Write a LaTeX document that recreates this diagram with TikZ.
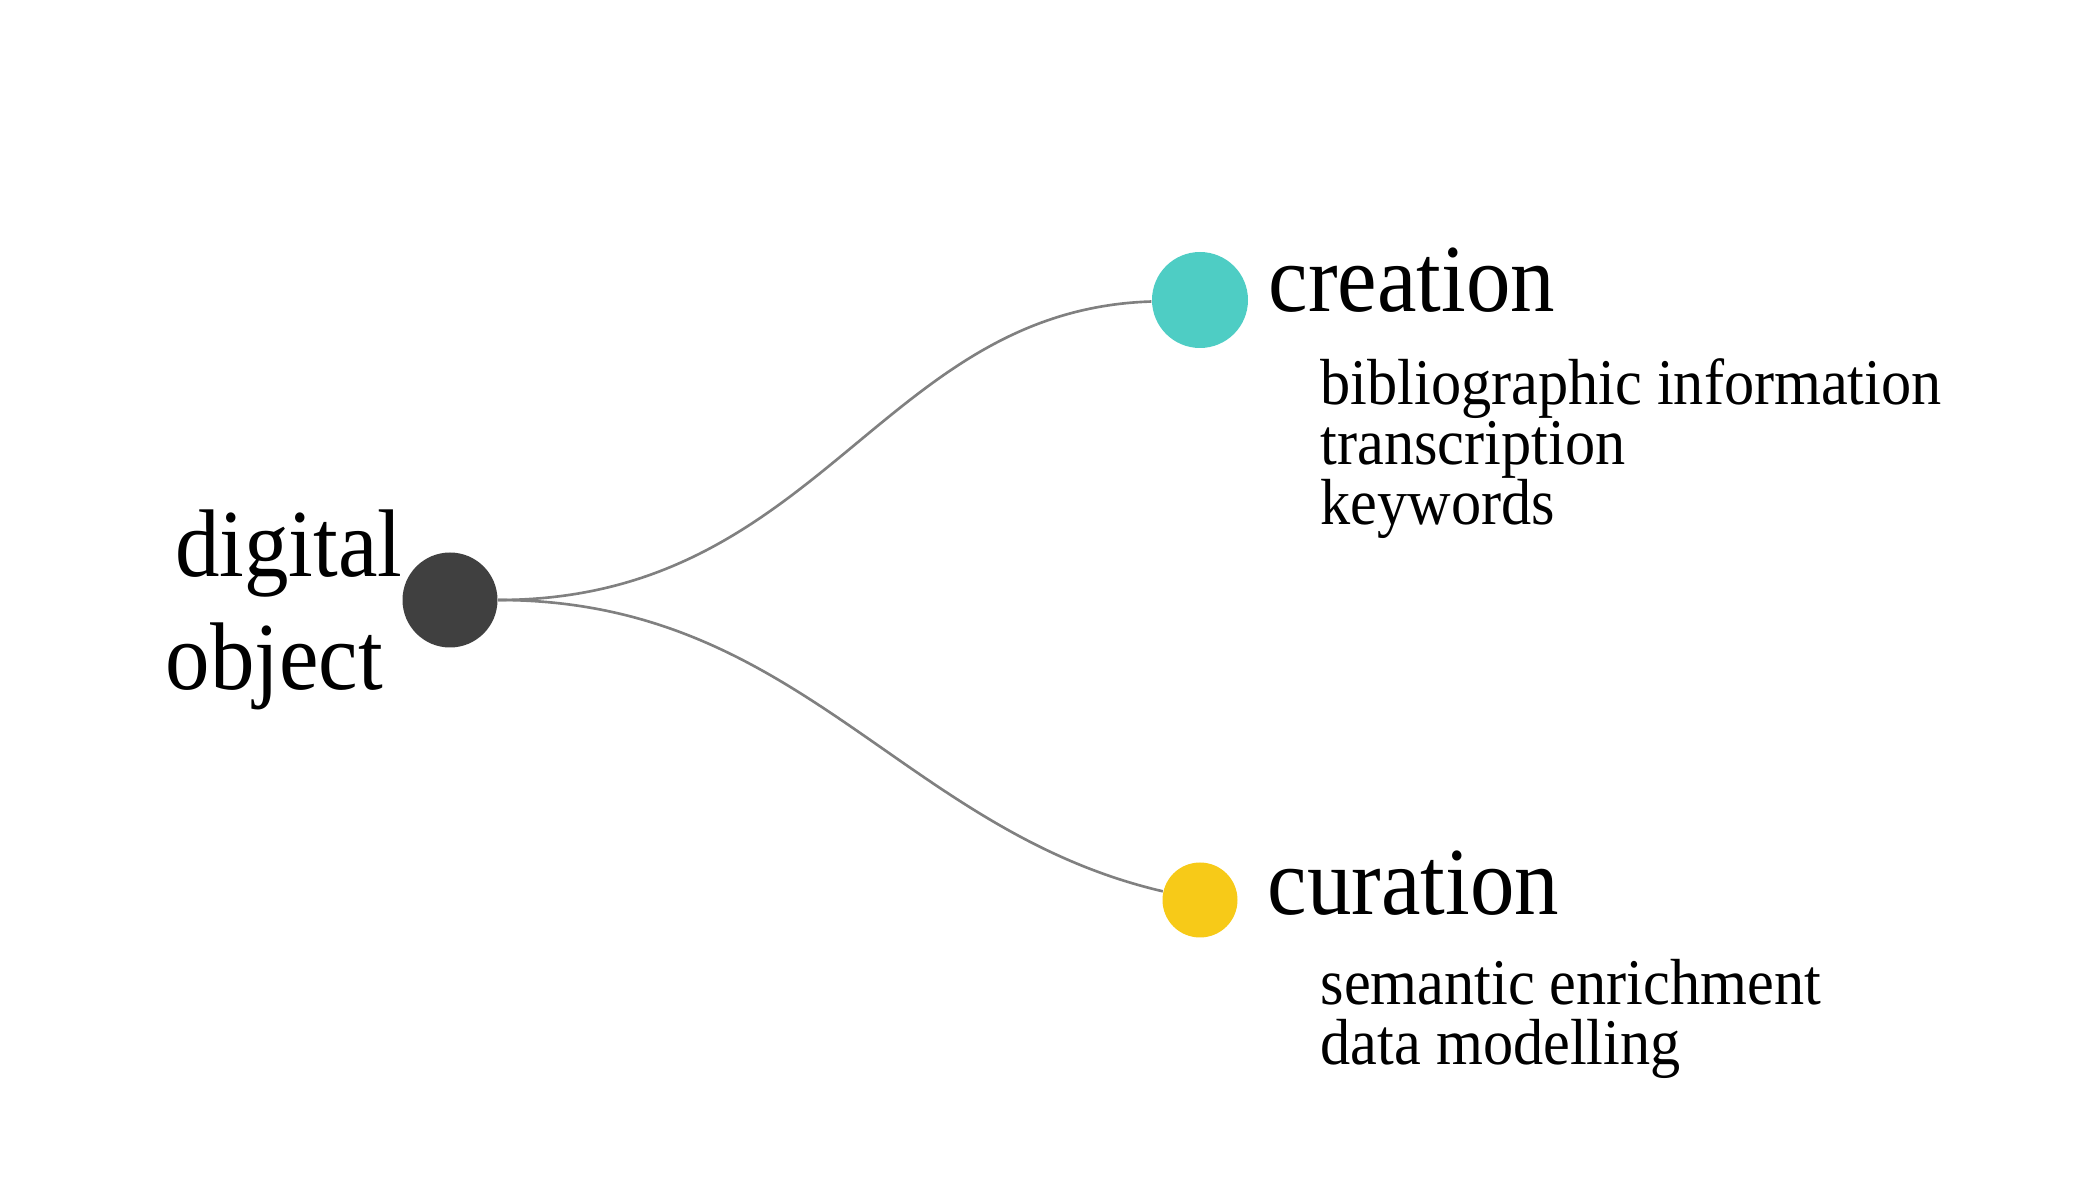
\documentclass[tikz,border=0pt]{standalone}
\usepackage{fontspec}
\setmainfont[FakeStretch=0.925]{Liberation Serif}
\definecolor{objgray}{HTML}{404040}
\definecolor{teal}{HTML}{4ECDC4}
\definecolor{gold}{HTML}{F7CA18}
\definecolor{linkgray}{HTML}{808080}
\begin{document}
\begin{tikzpicture}[dot/.style={circle, inner sep=0pt}, big/.style={inner sep=0pt, font=\fontsize{27.35}{27.35}\selectfont}, item/.style={inner sep=0pt, anchor=base west, font=\fontsize{18.54}{18.54}\selectfont}, link/.style={linkgray, line width=0.75pt}]
        \useasboundingbox (0,0) rectangle (21,12);
        \node[dot, fill=objgray, minimum size=0.95cm] (obj) at (4.5,6) {};
        \node[dot, fill=teal, minimum size=0.96cm] (cre) at (12,9) {};
        \node[dot, fill=gold, minimum size=0.75cm] (cur) at (12,3) {};
        \draw[link] (obj) .. controls (8.2,6) and (8.8,8.9) .. (cre);
        \draw[link] (obj) .. controls (8.0,6) and (9.0,3.7) .. (cur);
        \node[big, anchor=base east] (dig) at (4.03,6.23) {digital};
        \node[big, anchor=base west] (objlabel) at (1.65,5.10) {object};
        \node[big, anchor=base west] (crelabel) at (12.68,8.88) {creation};
        \node[big, anchor=base west] (curlabel) at (12.67,2.85) {curation};
        \foreach \t [count=\i] in {bibliographic information, transcription, keywords} {
            \node[item] (c\i) at (13.2,{8.55-0.6*\i}) {\t};
        }
        \foreach \t [count=\i] in {semantic enrichment, data modelling} {
            \node[item] (u\i) at (13.2,{2.55-0.6*\i}) {\t};
        }
    \end{tikzpicture}
\end{document}
